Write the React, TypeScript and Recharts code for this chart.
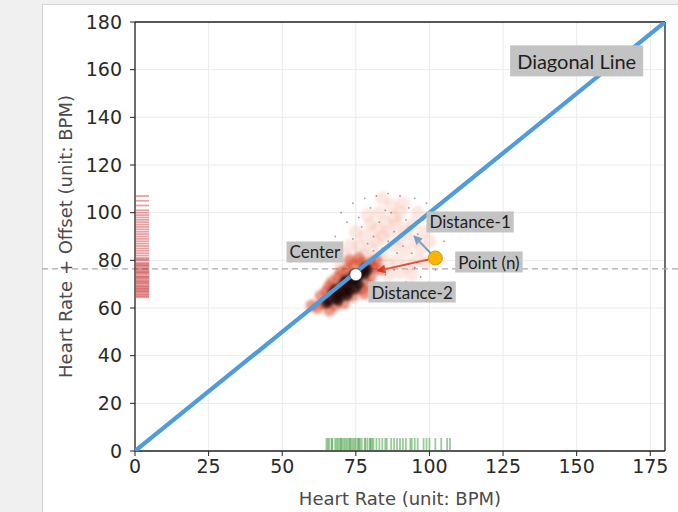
import { ScatterChart, Scatter, XAxis, YAxis, CartesianGrid, ReferenceLine } from 'recharts'

const xTicks = [0, 25, 50, 75, 100, 125, 150, 175]
const yTicks = [0, 20, 40, 60, 80, 100, 120, 140, 160, 180]

// x = heart rate, y = heart rate + offset
const diagonal = [{ x: 0, y: 0 }, { x: 180, y: 180 }]
const meanLevel = 76.4

// density cloud, hand-read in tiers from dark core to faint halo
const corePoints = [
  [66, 63], [68, 64], [69, 66], [70, 65], [71, 67], [72, 68], [70, 69], [73, 70], [74, 71],
  [72, 72], [75, 72], [76, 73], [74, 74], [77, 75], [78, 74], [73, 67], [68, 68], [71, 71],
  [76, 70], [78, 77], [67, 66], [65, 62], [79, 76], [75, 68], [69, 63], [72, 65],
]
const midPoints = [
  [62, 60], [64, 62], [63, 65], [66, 69], [67, 71], [69, 73], [70, 75], [72, 76], [74, 78],
  [77, 79], [80, 79], [81, 77], [80, 73], [79, 70], [77, 68], [74, 65], [71, 62], [68, 61],
  [66, 59], [82, 80], [76, 81], [73, 80], [60, 61], [65, 67], [83, 76], [78, 66],
]
const haloPoints = [
  [78, 82], [80, 85], [82, 88], [84, 90], [86, 92], [85, 96], [88, 98], [90, 100], [83, 100],
  [80, 95], [78, 90], [76, 86], [88, 86], [90, 89], [92, 92], [94, 95], [95, 88], [92, 84],
  [89, 80], [86, 78], [84, 82], [82, 93], [87, 103], [91, 104], [96, 100], [98, 92], [97, 85],
  [100, 88], [93, 78], [96, 80], [99, 79], [75, 92], [73, 86], [79, 99], [84, 106], [89, 95],
  [86, 74], [90, 75], [94, 74], [71, 82], [70, 78],
]
const specks = [
  [70, 100], [74, 104], [78, 106], [82, 107], [86, 108], [90, 107], [95, 106], [99, 104],
  [102, 100], [104, 95], [105, 88], [104, 82], [102, 76], [97, 73], [92, 71], [72, 96],
  [68, 90], [66, 84], [85, 74], [88, 76], [80, 102], [93, 102], [98, 97], [76, 98], [83, 96],
  [91, 86], [96, 91], [86, 88], [81, 90], [87, 100], [77, 94], [94, 83], [100, 93], [79, 87],
  [84, 85], [88, 92], [92, 97], [81, 84], [89, 83], [95, 77], [74, 89], [85, 101],
]

// rugs along each axis
const heartRates = [
  65, 65.5, 66, 66.8, 67, 68, 68.5, 69, 69.6, 70, 70.4, 71, 71.5, 72, 72.6, 73, 73.4, 74,
  74.5, 75, 75.7, 76, 76.4, 77, 78, 78.3, 79, 79.8, 80, 80.5, 81, 82, 83, 84, 85, 85.5, 87,
  88, 89, 90, 91, 92, 93.5, 94, 95, 96, 98, 99, 100, 102, 104, 106, 107,
]
const offsetRates = [
  64.5, 65, 65.6, 66, 66.7, 67, 67.5, 68, 68.4, 69, 69.3, 70, 70.5, 71, 71.4, 72, 72.5, 73,
  73.3, 74, 74.6, 75, 75.4, 76, 76.5, 77, 77.6, 78, 78.5, 79, 80, 80.4, 81, 82, 83, 84, 85,
  86, 87, 88, 89, 90, 91, 92, 93, 94, 95, 96, 97, 98, 99, 100, 101, 103, 105, 107,
]

const center = [{ x: 75, y: 74 }]
const pointN = [{ x: 102, y: 81 }]
const distance1End = { x: 94.5, y: 90.5 }
const distance2End = { x: 82, y: 75.5 }

const titleLabel = 'Diagonal Line'
const annotations = [
  { text: 'Diagonal Line', x: 150, y: 163.7 },
  { text: 'Distance-1', x: 113.8, y: 96.1 },
  { text: 'Center', x: 61.1, y: 83.5 },
  { text: 'Point (n)', x: 120.2, y: 79.3 },
  { text: 'Distance-2', x: 94.1, y: 66.7 },
]

const toXY = (pts: number[][]) => pts.map(([x, y]) => ({ x, y }))

let canvasCtx: CanvasRenderingContext2D | null = null
const measure = (text: string, size: number) => {
  if (!canvasCtx) canvasCtx = document.createElement('canvas').getContext('2d')
  if (!canvasCtx) return text.length * size * 0.5
  canvasCtx.font = `${size}px Lato`
  return canvasCtx.measureText(text).width
}

const blob = (r: number, fill: string, opacity: number) => (p: any) => (
  <circle cx={p.cx} cy={p.cy} r={r} fill={fill} fillOpacity={opacity} filter="url(#soft)" />
)

const LabelBox = (p: any) => {
  const text = p.payload.text
  const big = text === titleLabel
  const size = big ? 20 : 17
  const padX = big ? 7 : 3
  const h = big ? 31 : 21
  const w = measure(text, size) + padX * 2
  return (
    <g>
      <rect x={p.cx - w / 2} y={p.cy - h / 2} width={w} height={h} fill="#c3c3c3" />
      <text x={p.cx} y={p.cy} textAnchor="middle" dominantBaseline="central" fontFamily="Lato" fontSize={size} fill="#1e1e1e">
        {text}
      </text>
    </g>
  )
}

const Arrow = ({ x1, y1, x2, y2, color }: any) => {
  const a = Math.atan2(y2 - y1, x2 - x1)
  const len = 9
  const w = 4.5
  const bx = x2 - len * Math.cos(a)
  const by = y2 - len * Math.sin(a)
  const px = -Math.sin(a) * w
  const py = Math.cos(a) * w
  return (
    <g>
      <line x1={x1} y1={y1} x2={bx} y2={by} stroke={color} strokeWidth={2} />
      <polygon points={`${x2},${y2} ${bx + px},${by + py} ${bx - px},${by - py}`} fill={color} />
    </g>
  )
}

const tickStyle = { fontSize: 19, fill: '#2a2a2a', fontFamily: 'DejaVu Sans' }
const labelStyle = { fontSize: 18, fill: '#4a4a4a', fontFamily: 'DejaVu Sans', textAnchor: 'middle' as const }

export default function App() {
  return (
    <div style={{ position: 'fixed', left: 0, top: 0, width: 678, height: 512, background: '#f0f0f0', overflow: 'hidden' }}>
      <div
        style={{
          position: 'absolute', left: 42, top: 4, right: 0, bottom: 0, background: '#fff',
          borderLeft: '1px solid #d4d4d4', borderTop: '1px solid #d4d4d4',
        }}
      />
      <svg width={0} height={0} style={{ position: 'absolute' }}>
        <defs>
          <filter id="soft" x="-100%" y="-100%" width="300%" height="300%">
            <feGaussianBlur stdDeviation={1.8} />
          </filter>
        </defs>
      </svg>
      <div style={{ position: 'absolute', left: 0, top: 0 }}>
        <ScatterChart width={678} height={512} margin={{ top: 22, right: 13, bottom: 0, left: 0 }}>
          <CartesianGrid stroke="#ebebeb" strokeWidth={1} />
          <XAxis
            type="number"
            dataKey="x"
            domain={[0, 180]}
            ticks={xTicks}
            allowDataOverflow
            height={61}
            tick={tickStyle}
            tickSize={5}
            tickMargin={4}
            axisLine={{ stroke: '#222', strokeWidth: 1.3 }}
            tickLine={{ stroke: '#222' }}
            label={{ value: 'Heart Rate (unit: BPM)', position: 'insideBottom', offset: 7, style: labelStyle }}
          />
          <YAxis
            type="number"
            dataKey="y"
            domain={[0, 180]}
            ticks={yTicks}
            allowDataOverflow
            width={135}
            tick={tickStyle}
            tickSize={5}
            tickMargin={8}
            axisLine={{ stroke: '#222', strokeWidth: 1.3 }}
            tickLine={{ stroke: '#222' }}
            label={{ value: 'Heart Rate + Offset (unit: BPM)', angle: -90, position: 'insideLeft', offset: 66, style: labelStyle }}
          />
          <ReferenceLine y={180} stroke="#222" strokeWidth={1.3} />
          <ReferenceLine x={180} stroke="#222" strokeWidth={1.3} />
          <ReferenceLine
            y={meanLevel}
            shape={(p: any) => (
              <line x1={p.x1 - 93} x2={p.x2 + 13} y1={p.y1} y2={p.y2} stroke="#aaa" strokeWidth={1.3} strokeDasharray="6 4" />
            )}
          />
          <Scatter data={toXY(haloPoints)} isAnimationActive={false} shape={blob(7, '#f4a58e', 0.26)} />
          <Scatter data={toXY(specks)} isAnimationActive={false} shape={(p: any) => <circle cx={p.cx} cy={p.cy} r={0.9} fill="#333" fillOpacity={0.45} />} />
          <Scatter data={toXY(midPoints)} isAnimationActive={false} shape={blob(6, '#d8361c', 0.5)} />
          <Scatter data={toXY(corePoints)} isAnimationActive={false} shape={blob(5, '#1a0301', 0.75)} />
          <Scatter
            data={offsetRates.map((v) => ({ x: 0, y: v }))}
            isAnimationActive={false}
            shape={(p: any) => (
              <line x1={p.cx + 1} x2={p.cx + 14} y1={p.cy} y2={p.cy} stroke="#c41e24" strokeOpacity={0.42} strokeWidth={1.8} />
            )}
          />
          <Scatter
            data={heartRates.map((v) => ({ x: v, y: 0 }))}
            isAnimationActive={false}
            shape={(p: any) => (
              <line x1={p.cx} x2={p.cx} y1={p.cy - 13} y2={p.cy - 1} stroke="#1f8f1f" strokeOpacity={0.45} strokeWidth={1.8} />
            )}
          />
          <Scatter
            data={diagonal}
            isAnimationActive={false}
            line={{ stroke: '#4f9bdc', strokeWidth: 4.2, strokeLinecap: 'round' }}
            shape={() => <g />}
          />
          <ReferenceLine
            segment={[pointN[0], distance1End]}
            shape={(p: any) => <Arrow x1={p.x1} y1={p.y1} x2={p.x2} y2={p.y2} color="#4f9bdc" />}
          />
          <ReferenceLine
            segment={[pointN[0], distance2End]}
            shape={(p: any) => <Arrow x1={p.x1} y1={p.y1} x2={p.x2} y2={p.y2} color="#d42a1e" />}
          />
          <Scatter
            data={center}
            isAnimationActive={false}
            shape={(p: any) => <circle cx={p.cx} cy={p.cy} r={6} fill="#fff" stroke="#333" strokeWidth={0.6} />}
          />
          <Scatter
            data={pointN}
            isAnimationActive={false}
            shape={(p: any) => <circle cx={p.cx} cy={p.cy} r={7} fill="#f7b500" stroke="#e09a00" strokeWidth={1} />}
          />
          <Scatter data={annotations} isAnimationActive={false} shape={LabelBox} />
        </ScatterChart>
      </div>
    </div>
  )
}
